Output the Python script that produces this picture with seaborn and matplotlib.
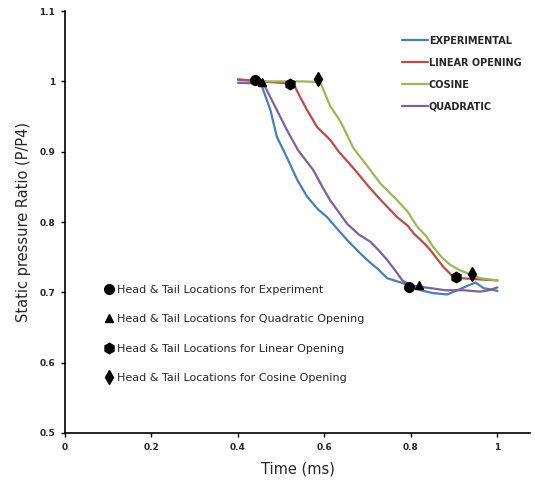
import matplotlib
matplotlib.use("Agg")
import matplotlib.pyplot as plt
from matplotlib.lines import Line2D
import seaborn as sns
import pandas as pd

# Curves
exp_t = [0.40, 0.44, 0.456, 0.475, 0.49, 0.513, 0.537, 0.56, 0.585, 0.606, 0.63,
         0.653, 0.68, 0.706, 0.722, 0.745, 0.782, 0.80, 0.822, 0.85, 0.884, 0.907, 0.93,
         0.949, 0.968, 0.985, 1.0]
exp_p = [1.002, 1.001, 0.992, 0.959, 0.921, 0.892, 0.860, 0.836, 0.818, 0.807, 0.790,
         0.774, 0.757, 0.742, 0.734, 0.720, 0.713, 0.708, 0.703, 0.699, 0.697, 0.703, 0.709,
         0.714, 0.706, 0.704, 0.702]

lin_t = [0.40, 0.45, 0.50, 0.521, 0.532, 0.546, 0.560, 0.583, 0.613, 0.633, 0.655, 0.676, 0.70,
         0.729, 0.768, 0.792, 0.806, 0.83, 0.845, 0.875, 0.898, 0.92, 0.944, 0.97, 1.0]
lin_p = [1.003, 1.0, 0.998, 0.996, 0.992, 0.975, 0.959, 0.935, 0.917, 0.900, 0.885, 0.870, 0.852,
         0.832, 0.807, 0.795, 0.784, 0.770, 0.760, 0.736, 0.722, 0.720, 0.719, 0.718, 0.717]

cos_t = [0.45, 0.50, 0.55, 0.59, 0.613, 0.637, 0.667, 0.706, 0.729, 0.768, 0.792, 0.815,
         0.835, 0.852, 0.871, 0.891, 0.911, 0.931, 0.961, 1.0]
cos_p = [1.0, 1.0, 1.0, 0.999, 0.965, 0.943, 0.905, 0.874, 0.855, 0.831, 0.815, 0.793,
         0.780, 0.764, 0.750, 0.739, 0.732, 0.727, 0.720, 0.717]

quad_t = [0.40, 0.45, 0.463, 0.49, 0.513, 0.539, 0.574, 0.595, 0.613, 0.653, 0.68,
          0.706, 0.725, 0.745, 0.765, 0.78, 0.799, 0.82, 0.845, 0.88, 0.921, 0.96, 0.98, 1.0]
quad_p = [0.998, 0.997, 0.992, 0.959, 0.931, 0.902, 0.874, 0.850, 0.831, 0.797, 0.782,
          0.772, 0.760, 0.746, 0.730, 0.717, 0.710, 0.708, 0.706, 0.703, 0.703, 0.701, 0.703, 0.707]

series_names = ["EXPERIMENTAL", "LINEAR OPENING", "COSINE", "QUADRATIC"]
series_colors = ["#4a7ebb", "#be4b48", "#98b954", "#7d60a0"]

# head & tail locations (time, ratio) per series
head_tail_t = {"exp": [0.44, 0.796], "quad": [0.456, 0.819], "lin": [0.521, 0.905], "cos": [0.586, 0.942]}
head_tail_p = {"exp": [1.002, 0.707], "quad": [0.999, 0.710], "lin": [0.997, 0.722], "cos": [1.003, 0.726]}
head_tail_labels = {
    "exp": "Head & Tail Locations for Experiment",
    "quad": "Head & Tail Locations for Quadratic Opening",
    "lin": "Head & Tail Locations for Linear Opening",
    "cos": "Head & Tail Locations for Cosine Opening",
}
head_tail_markers = {"exp": "o", "quad": "^", "lin": "h", "cos": "d"}
head_tail_sizes = {"exp": 7, "quad": 6, "lin": 7.5, "cos": 7}

frames = []
for name, t, p in zip(series_names, [exp_t, lin_t, cos_t, quad_t], [exp_p, lin_p, cos_p, quad_p]):
    frames.append(pd.DataFrame({"Time": t, "Ratio": p, "Series": name}))
df = pd.concat(frames, ignore_index=True)

sns.set_style("white")
plt.rcParams["font.family"] = ["DejaVu Sans"]

fig = plt.figure(figsize=(5.35, 4.82), dpi=100)
ax = fig.add_axes([0.1215, 0.1017, 0.869, 0.8753])

sns.lineplot(data=df, x="Time", y="Ratio", hue="Series", hue_order=series_names,
             palette=series_colors, sort=False, linewidth=1.6, ax=ax, legend=False)

for key in ["exp", "quad", "lin", "cos"]:
    ax.plot(head_tail_t[key], head_tail_p[key], linestyle="none",
            marker=head_tail_markers[key], markersize=head_tail_sizes[key],
            color="black", zorder=5)

ax.set_xlim(0, 1.075)
ax.set_ylim(0.5, 1.1)
ax.set_xticks([0, 0.2, 0.4, 0.6, 0.8, 1.0])
ax.set_xticklabels(["0", "0.2", "0.4", "0.6", "0.8", "1"])
ax.set_yticks([0.5, 0.6, 0.7, 0.8, 0.9, 1.0, 1.1])
ax.set_yticklabels(["0.5", "0.6", "0.7", "0.8", "0.9", "1", "1.1"])
for lab in ax.get_xticklabels() + ax.get_yticklabels():
    lab.set_fontweight("bold")
    lab.set_fontsize(6.5)
ax.tick_params(axis="both", direction="out", length=3, width=1, color="black",
               bottom=True, left=True, pad=4)

for side in ["top", "right"]:
    ax.spines[side].set_visible(False)
for side in ["left", "bottom"]:
    ax.spines[side].set_color("black")
    ax.spines[side].set_linewidth(1.2)

ax.set_xlabel("Time (ms)", fontsize=10.5, labelpad=7)
ax.set_ylabel("Static pressure Ratio (P/P4)", fontsize=10.5, labelpad=6)

line_handles = [Line2D([0], [0], color=c, lw=1.6) for c in series_colors]
leg1 = ax.legend(line_handles, series_names, loc="upper left", bbox_to_anchor=(0.705, 0.962),
                 frameon=False, handlelength=2.7, handletextpad=0.1, labelspacing=1.22,
                 prop={"weight": "bold", "size": 7})
ax.add_artist(leg1)

mk_handles = [Line2D([0], [0], linestyle="none", marker=head_tail_markers[k],
                     markersize=head_tail_sizes[k], color="black")
              for k in ["exp", "quad", "lin", "cos"]]
ax.legend(mk_handles, [head_tail_labels[k] for k in ["exp", "quad", "lin", "cos"]],
          loc="upper left", bbox_to_anchor=(0.065, 0.375), frameon=False,
          handlelength=0.6, handletextpad=0.5, labelspacing=1.75, fontsize=8)

fig.savefig("out.png", dpi=100)
plt.close(fig)
